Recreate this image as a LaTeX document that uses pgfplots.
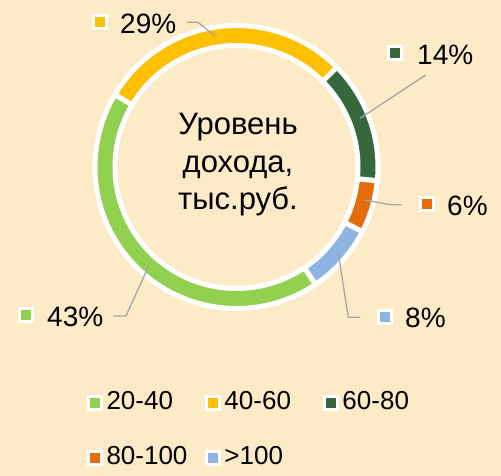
\documentclass[border=0pt]{standalone}
\usepackage{pgfplots}
\pgfplotsset{compat=1.18}
\usepackage{pgfplotstable}
\usepackage{fontspec}
\setmainfont{Liberation Sans}
\definecolor{bgc}{HTML}{FDEAC6}
\definecolor{cA}{HTML}{92D050}
\definecolor{cB}{HTML}{FFC000}
\definecolor{cC}{HTML}{37673C}
\definecolor{cD}{HTML}{E46C0A}
\definecolor{cE}{HTML}{8EB4E3}
\definecolor{leader}{HTML}{A6A6A6}
\pgfplotstableread{
label value color
20-40 43 cA
40-60 29 cB
60-80 14 cC
80-100 6 cD
>100 8 cE
}\incomedata
\begin{document}
\begin{tikzpicture}
\begin{axis}[hide axis, scale only axis, x=1pt, y=1pt,
  xmin=0, xmax=501, ymin=0, ymax=476, clip=false,
  legend columns=3,
  legend style={at={(axis cs:86.5,86)}, anchor=north west, draw=none, fill=none,
    inner sep=0pt, outer sep=0pt, font=\fontsize{26}{31}\selectfont, row sep=29pt,
    /tikz/every odd column/.style={column sep=4pt},
    /tikz/every even column/.style={column sep=10pt},
    nodes={inner sep=0pt, text height=20pt, text depth=6pt, text width=88pt, align=left}},
  legend image code/.code={\filldraw[#1, draw=white, line width=3pt] (0pt,-6.5pt) rectangle (13pt,6.5pt);}
]
\fill[bgc] (rel axis cs:0,0) rectangle (rel axis cs:1,1);
\gdef\cum{0}
\pgfplotsforeachungrouped \i in {0,...,4}{%
  \pgfplotstablegetelem{\i}{value}\of\incomedata \let\v\pgfplotsretval
  \pgfplotstablegetelem{\i}{color}\of\incomedata \let\c\pgfplotsretval
  \pgfmathsetmacro\aS{-56-3.6*\cum}%
  \pgfmathsetmacro\aE{\aS-3.6*\v}%
  \pgfmathsetmacro\newcum{\cum+\v}%
  \xdef\cum{\newcum}%
  \edef\temp{\noexpand\filldraw[fill=\c, draw=white, line width=5pt]
    ([shift={(\aS:141.5pt)}]axis cs:236.5,309) arc[start angle=\aS, end angle=\aE, radius=141.5pt]
    -- ([shift={(\aE:121.5pt)}]axis cs:236.5,309) arc[start angle=\aE, end angle=\aS, radius=121.5pt] -- cycle;}%
  \temp
}
% center text
\node[anchor=base, inner sep=0pt, font=\fontsize{31}{37}\selectfont] at (axis cs:238,341) {Уровень};
\node[anchor=base, inner sep=0pt, font=\fontsize{31}{37}\selectfont] at (axis cs:238,303) {дохода,};
\node[anchor=base, inner sep=0pt, font=\fontsize{31}{37}\selectfont] at (axis cs:238,266) {тыс.руб.};
% leader lines
\draw[leader, line width=1.3pt] (axis cs:187,453.7) -- (axis cs:198,453.7) -- (axis cs:215,440);
\draw[leader, line width=1.3pt] (axis cs:425.7,401) -- (axis cs:360,357.7);
\draw[leader, line width=1.3pt] (axis cs:401.7,271.3) -- (axis cs:390,271.3) -- (axis cs:365,276);
\draw[leader, line width=1.3pt] (axis cs:360,158.7) -- (axis cs:348.3,158.7) -- (axis cs:338.3,222.7);
\draw[leader, line width=1.3pt] (axis cs:113.3,160) -- (axis cs:126,160) -- (axis cs:148.3,209.3);
% data labels
\filldraw[fill=cB, draw=white, line width=3pt] (axis cs:93,447) rectangle (axis cs:106,460);
\node[anchor=base west, inner sep=0pt, font=\fontsize{28}{33}\selectfont] at (axis cs:120,442.7) {29\%};
\filldraw[fill=cC, draw=white, line width=3pt] (axis cs:388.5,416.5) rectangle (axis cs:401.5,429.5);
\node[anchor=base west, inner sep=0pt, font=\fontsize{28}{33}\selectfont] at (axis cs:417,411) {14\%};
\filldraw[fill=cD, draw=white, line width=3pt] (axis cs:420.5,265.5) rectangle (axis cs:433.5,278.5);
\node[anchor=base west, inner sep=0pt, font=\fontsize{28}{33}\selectfont] at (axis cs:447,260) {6\%};
\filldraw[fill=cE, draw=white, line width=3pt] (axis cs:378.5,152.5) rectangle (axis cs:391.5,165.5);
\node[anchor=base west, inner sep=0pt, font=\fontsize{28}{33}\selectfont] at (axis cs:405,148) {8\%};
\filldraw[fill=cA, draw=white, line width=3pt] (axis cs:19.5,154.5) rectangle (axis cs:32.5,167.5);
\node[anchor=base west, inner sep=0pt, font=\fontsize{28}{33}\selectfont] at (axis cs:47,149) {43\%};
% legend
\addlegendimage{fill=cA}\addlegendentry{20-40}
\addlegendimage{fill=cB}\addlegendentry{40-60}
\addlegendimage{fill=cC}\addlegendentry{60-80}
\addlegendimage{fill=cD}\addlegendentry{80-100}
\addlegendimage{fill=cE}\addlegendentry{>100}
\end{axis}
\end{tikzpicture}
\end{document}
